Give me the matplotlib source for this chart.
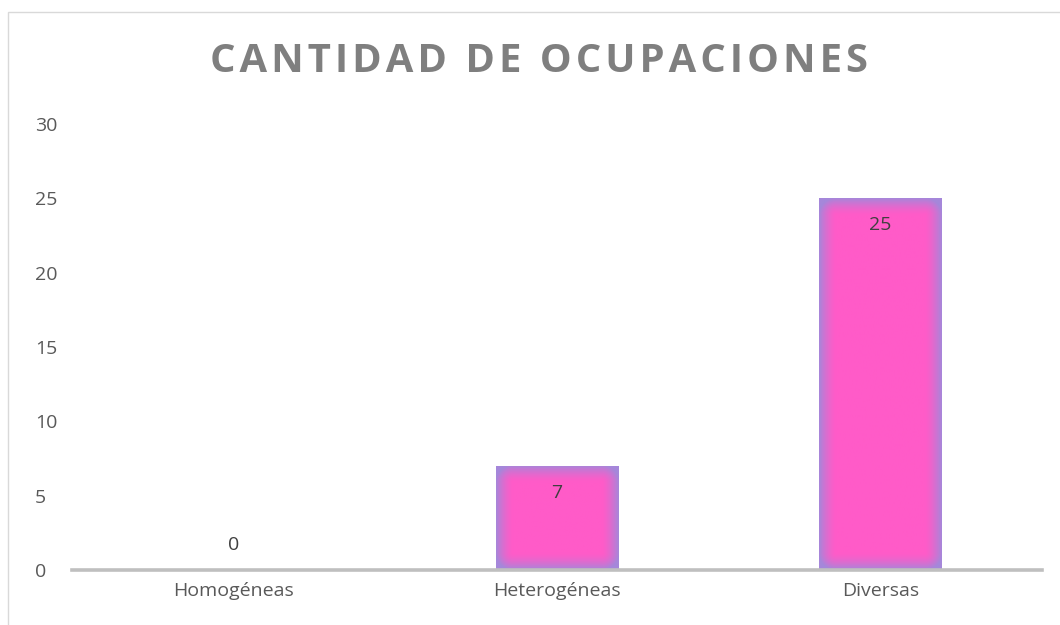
import numpy as np
import matplotlib
matplotlib.use("Agg")
import matplotlib.pyplot as plt
from matplotlib.patches import Rectangle

categories = ["Homogéneas", "Heterogéneas", "Diversas"]
values = [0, 7, 25]
yticks = [0, 5, 10, 15, 20, 25, 30]
title = "CANTIDAD DE OCUPACIONES"

W, H = 1060, 625
fig = plt.figure(figsize=(W / 100, H / 100), dpi=100)
fig.patch.set_facecolor("white")

# outer chart border (extends past right/bottom)
fig.add_artist(Rectangle((8 / W, -0.1), 1.2, (H - 12) / H + 0.1, transform=fig.transFigure,
                         fill=False, edgecolor="#D9D9D9", lw=1.0))

ax_l, ax_r, ax_b, ax_t = 72, 1042, 570, 124
ax = fig.add_axes([ax_l / W, (H - ax_b) / H, (ax_r - ax_l) / W, (ax_b - ax_t) / H])
ax.set_facecolor("none")

x = np.arange(len(categories))
bars = ax.bar(x, values, width=0.378, color="#FF5BC8", edgecolor="none", zorder=2)
ax.set_xlim(-0.5, len(categories) - 0.5)
ax.set_ylim(0, 30)

for s in ["top", "right", "left"]:
    ax.spines[s].set_visible(False)
ax.spines["bottom"].set_color("#BFBFBF")
ax.spines["bottom"].set_linewidth(2.6)
ax.spines["bottom"].set_zorder(3)

ax.set_yticks(yticks)
ax.set_yticklabels([str(t) for t in yticks])
ax.tick_params(axis="y", length=0, pad=26.5, labelsize=14, labelcolor="#595959")
for lab in ax.get_yticklabels():
    lab.set_horizontalalignment("left")
    lab.set_fontfamily("Open Sans")
ax.set_xticks(x)
ax.set_xticklabels(categories)
ax.tick_params(axis="x", length=0, pad=9, labelsize=14, labelcolor="#595959")
for lab in ax.get_xticklabels():
    lab.set_fontfamily("Open Sans")

# gradient fill for bars
center = np.array([255, 91, 200]) / 255.0
edge = np.array([165, 135, 218]) / 255.0
fig.canvas.draw()
for b in bars:
    h = b.get_height()
    if h <= 0:
        continue
    x0, y0 = b.get_x(), b.get_y()
    w = b.get_width()
    p0 = ax.transData.transform((x0, y0))
    p1 = ax.transData.transform((x0 + w, y0 + h))
    pw, ph = int(abs(p1[0] - p0[0])), int(abs(p1[1] - p0[1]))
    xx = np.arange(pw) + 0.5
    yy = np.arange(ph) + 0.5
    dx = np.minimum(xx, pw - xx)[None, :]
    dy = np.minimum(yy, ph - yy)[:, None]
    g = 17.0
    tx = np.clip(dx / g, 0, 1)
    ty = np.clip(dy / g, 0, 1)
    s = np.clip(np.sqrt((1 - tx) ** 2 + (1 - ty) ** 2), 0, 1)
    s = s ** 1.5
    img = center[None, None, :] + (edge - center)[None, None, :] * s[:, :, None]
    im = ax.imshow(img, extent=(x0, x0 + w, y0, y0 + h), origin="lower",
                   aspect="auto", interpolation="bilinear", zorder=2.5)
    im.set_clip_path(b)

ax.set_xlim(-0.5, len(categories) - 0.5)
ax.set_ylim(0, 30)

# data labels
for xi, v in zip(x, values):
    off = -27 if v > 0 else 25
    ax.annotate(str(v), (xi, v), xytext=(0, off), textcoords="offset pixels",
                ha="center", va="center", fontsize=14, color="#404040",
                family="Open Sans", zorder=4)

spaced = "\u200a".join(title)
fig.text(539 / W, 1 - 62 / H, spaced, ha="center", va="center", fontsize=28.8,
         fontweight="bold", color="#7F7F7F", family=["Open Sans", "DejaVu Sans"])

fig.savefig("out.png", dpi=100)
